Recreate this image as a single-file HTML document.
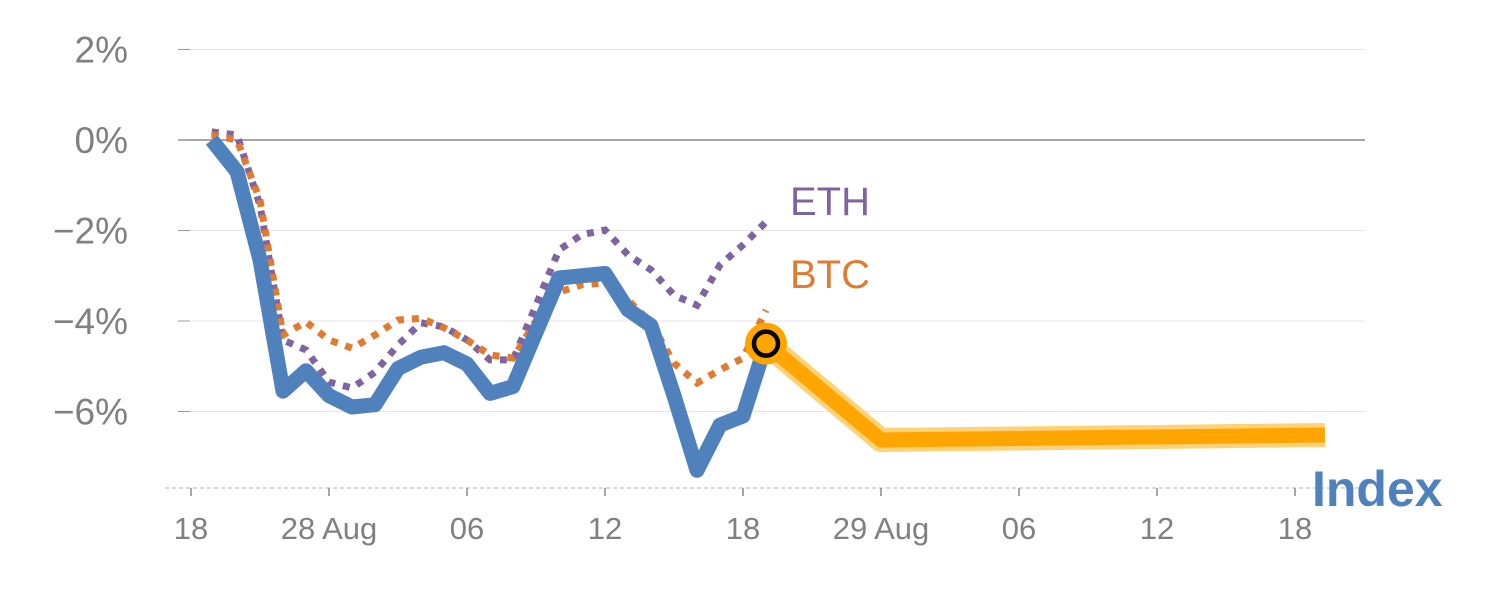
<!DOCTYPE html>
<html><head><meta charset="utf-8"><style>
body{margin:0;background:#fff;}
svg text{font-family:"Liberation Sans",sans-serif;}
</style></head><body>
<svg id="chart" width="1500" height="600" xmlns="http://www.w3.org/2000/svg"></svg>
<script>
const yTicks=[2,0,-2,-4,-6];
const yTickLabels=["2%","0%","\u22122%","\u22124%","\u22126%"];
const xTickIdx=[0,6,12,18,24,30,36,42,48];
const xTickLabels=["18","28 Aug","06","12","18","29 Aug","06","12","18"];
const histIdx=[0.9,2,3,4,5,6,7,8,9,10,11,12,13,14,15,16,17,18,19,20,21,22,23,24,25];
const indexVals=[0,-0.7,-2.65,-5.55,-5.1,-5.65,-5.9,-5.85,-5.05,-4.8,-4.7,-4.95,-5.6,-5.45,-4.25,-3.05,-3.0,-2.95,-3.75,-4.1,-5.65,-7.3,-6.3,-6.1,-4.5];
const ethVals=[0.18,0.11,-1.44,-4.42,-4.64,-5.35,-5.48,-5.13,-4.53,-4.04,-4.13,-4.42,-4.86,-4.86,-3.65,-2.43,-2.09,-1.99,-2.54,-2.87,-3.43,-3.65,-2.76,-2.32,-1.81];
const btcVals=[0.11,0,-1.33,-4.31,-4.02,-4.42,-4.6,-4.31,-3.98,-3.94,-4.15,-4.42,-4.75,-4.82,-4.0,-3.36,-3.2,-3.16,-3.54,-4.04,-4.93,-5.37,-5.08,-4.82,-3.76];
const fcIdx=[25,30,49.3];
const fcVals=[-4.5,-6.63,-6.52];

const NS="http://www.w3.org/2000/svg";
const svg=document.getElementById('chart');
const X=i=>191+23*i;
const Y=v=>140-45.25*v;
function el(t,a,p){const e=document.createElementNS(NS,t);for(const k in a)e.setAttribute(k,a[k]);(p||svg).appendChild(e);return e;}
function pts(xs,vs){return xs.map((x,i)=>X(x)+','+Y(vs[i])).join(' ');}

yTicks.forEach((v,i)=>{
  const g=el('line',{x1:178,x2:1365,y1:Y(v),y2:Y(v),stroke:v===0?'#8a8a8a':'#e4e4e4','stroke-width':v===0?1.5:1});
  
  
  el('line',{x1:178,x2:190,y1:Y(v),y2:Y(v),stroke:'#999','stroke-width':1});
  const t=el('text',{x:128,y:Y(v)+13,'text-anchor':'end','font-size':37,fill:'#808080'});
  t.textContent=yTickLabels[i];
  
  
});
const base=el('line',{x1:165,x2:1365,y1:488,y2:488,stroke:'#ccc','stroke-width':1.5,'stroke-dasharray':'4,3'});


xTickIdx.forEach((ix,i)=>{
  el('line',{x1:X(ix),x2:X(ix),y1:488,y2:496,stroke:'#888','stroke-width':1.5});
  const t=el('text',{x:X(ix),y:539,'text-anchor':'middle','font-size':31,fill:'#808080'});
  t.textContent=xTickLabels[i];
  
  
});

const halo=el('polyline',{points:pts(fcIdx,fcVals),fill:'none',stroke:'#ffd27a','stroke-width':24,'stroke-linejoin':'round','stroke-linecap':'butt'});


const fc=el('polyline',{points:pts(fcIdx,fcVals),fill:'none',stroke:'#ffa500','stroke-width':15,'stroke-linejoin':'round'});



const eth=el('polyline',{points:pts(histIdx,ethVals),fill:'none',stroke:'#8064a2','stroke-width':7,'stroke-dasharray':'7,8'});


const btc=el('polyline',{points:pts(histIdx,btcVals),fill:'none',stroke:'#e07b30','stroke-width':7,'stroke-dasharray':'7,8'});


const idx=el('polyline',{points:pts(histIdx,indexVals),fill:'none',stroke:'#4f81bd','stroke-width':15,'stroke-linejoin':'round'});



const lastI=histIdx.length-1;
const m1=el('circle',{cx:X(histIdx[lastI]),cy:Y(indexVals[lastI]),r:21,fill:'#ffa500'});


el('circle',{cx:X(histIdx[lastI]),cy:Y(indexVals[lastI]),r:12,fill:'#ffa500',stroke:'#000','stroke-width':4.5});

const le=el('text',{x:790,y:215,'font-size':40,fill:'#8064a2'});le.textContent='ETH';


const lb=el('text',{x:790,y:288,'font-size':40,fill:'#e07b30'});lb.textContent='BTC';


const li=el('text',{x:1312,y:506,'font-size':50,'font-weight':'bold',fill:'#4f81bd'});li.textContent='Index';


</script>
</body></html>
